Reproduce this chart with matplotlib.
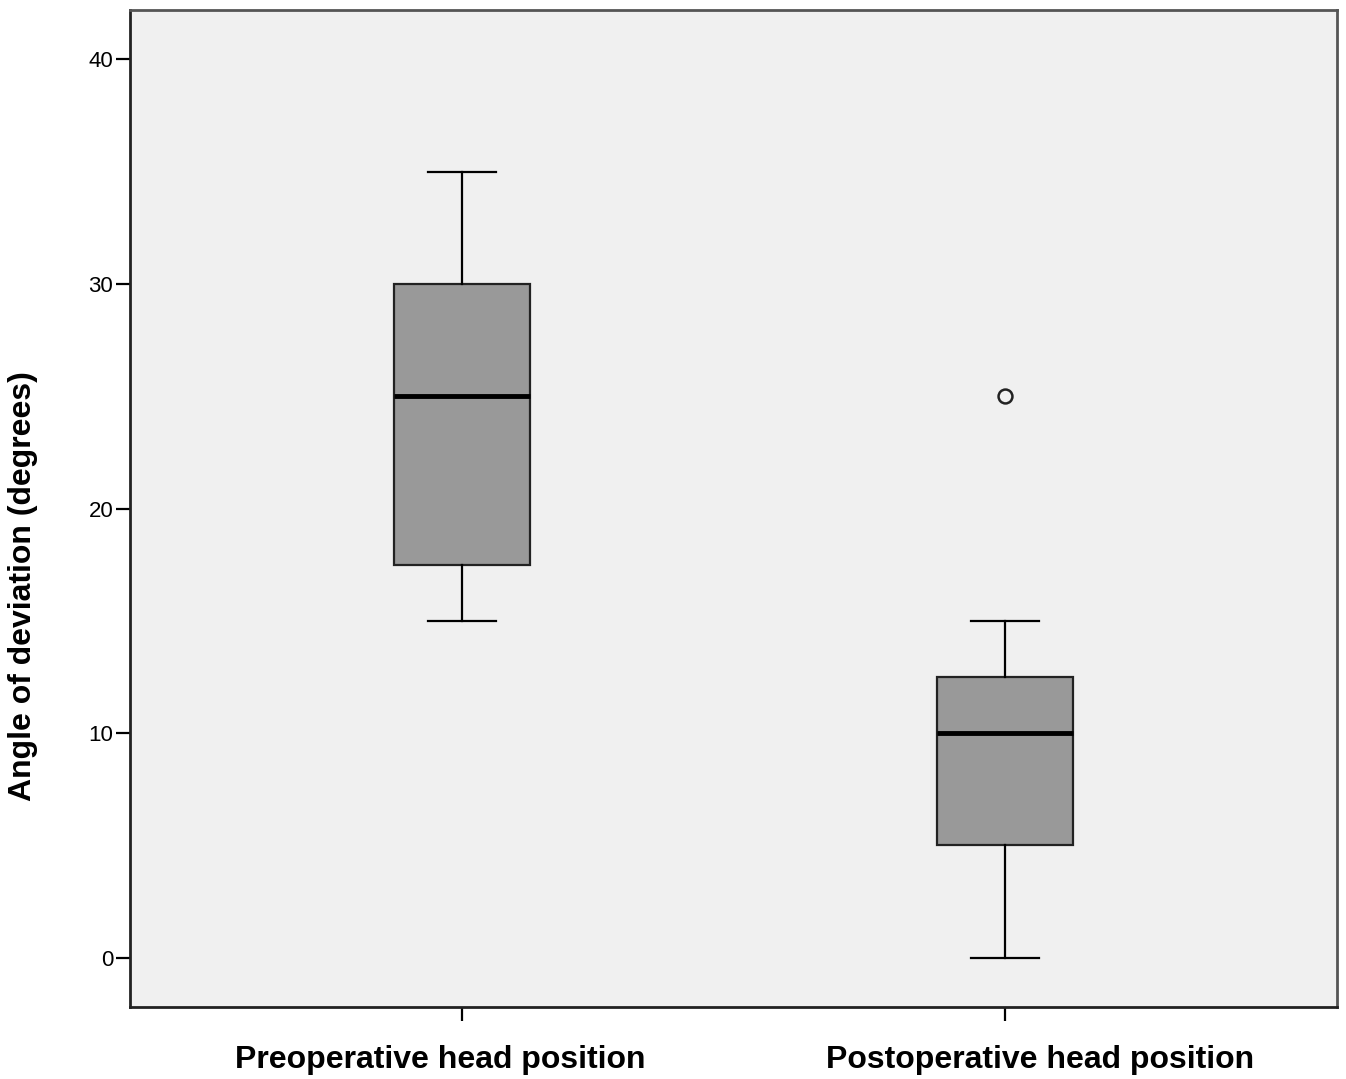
import matplotlib.pyplot as plt
from matplotlib.transforms import ScaledTranslation

plt.rcParams["font.family"] = ["Liberation Sans", "DejaVu Sans"]

# data
categories = ["Preoperative head position", "Postoperative head position"]
whisker_low = [15, 0]
q1 = [17.5, 5]
medians = [25, 10]
q3 = [30, 12.5]
whisker_high = [35, 15]
outliers = [[], [25]]

stats = []
for i, label in enumerate(categories):
    stats.append({
        "label": label,
        "whislo": whisker_low[i],
        "q1": q1[i],
        "med": medians[i],
        "q3": q3[i],
        "whishi": whisker_high[i],
        "fliers": outliers[i],
    })

fig = plt.figure(figsize=(13.46, 10.79), dpi=100)
ax = fig.add_axes([0.0966, 0.0667, 0.8967, 0.924])
ax.set_facecolor("#f0f0f0")

ax.bxp(
    stats,
    positions=[1, 2],
    widths=0.249,
    patch_artist=True,
    boxprops=dict(facecolor="#999999", edgecolor="#222222", linewidth=1.6),
    medianprops=dict(color="black", linewidth=3.5),
    whiskerprops=dict(color="black", linewidth=1.6),
    capprops=dict(color="black", linewidth=1.6),
    capwidths=0.124,
    flierprops=dict(marker="o", markerfacecolor="none", markeredgecolor="#222222",
                    markersize=10, markeredgewidth=1.8),
)

ax.set_xlim(0.389, 2.611)
ax.set_ylim(-2.2, 42.2)
ax.set_yticks([0, 10, 20, 30, 40])
ax.tick_params(axis="y", length=10, width=1.6, labelsize=16, pad=2)
ax.tick_params(axis="x", length=10, width=1.6, labelsize=23, pad=17)

# SPSS places the category labels slightly off their ticks
shifts = [-22, 35]
for lbl, dx in zip(ax.get_xticklabels(), shifts):
    lbl.set_fontweight("bold")
    lbl.set_transform(lbl.get_transform() + ScaledTranslation(dx / 100, 0, fig.dpi_scale_trans))

ax.set_ylabel("Angle of deviation (degrees)", fontsize=23, fontweight="bold")
ax.yaxis.set_label_coords(-0.076, 0.422)

for side in ["left", "bottom"]:
    ax.spines[side].set_linewidth(2)
    ax.spines[side].set_color("#222222")
for side in ["top", "right"]:
    ax.spines[side].set_linewidth(2)
    ax.spines[side].set_color("#555555")

fig.savefig("out.png", dpi=100)
